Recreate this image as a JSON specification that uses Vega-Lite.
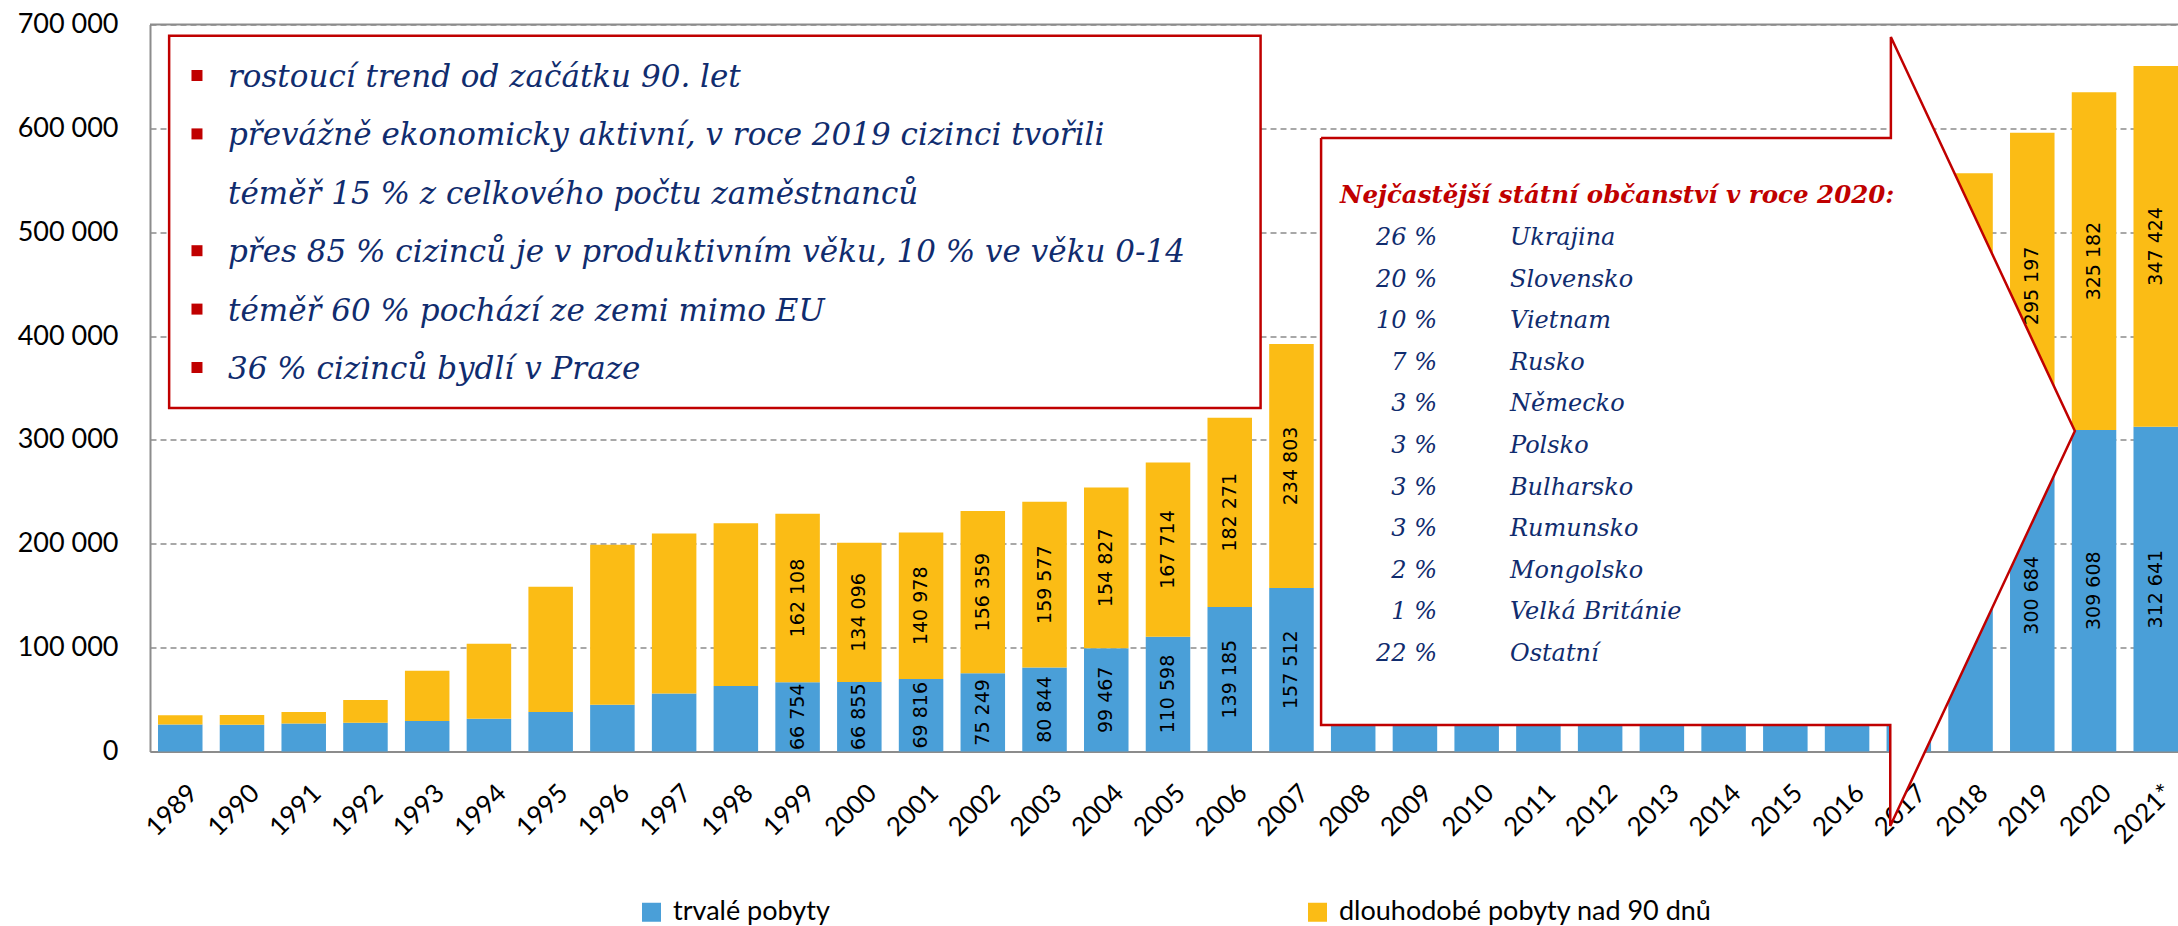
{
  "$schema": "https://vega.github.io/schema/vega-lite/v6.json",
  "width": 2028,
  "height": 727,
  "autosize": {"type": "none"},
  "padding": {"left": 150, "top": 24.5, "right": 0, "bottom": 174.5},
  "config": {
    "locale": {"number": {"decimal": ",", "thousands": " ", "grouping": [3], "currency": ["", " Kč"]}},
    "view": {"stroke": null},
    "font": "Lato",
    "axis": {"title": null, "ticks": false, "domainColor": "#8C8C8C", "domainWidth": 2, "labelFont": "Lato", "labelColor": "black", "gridColor": "#8C8C8C", "gridDash": [6, 4], "gridWidth": 1.5},
    "axisY": {"labelFontSize": 27, "labelPadding": 32},
    "axisX": {"labelFontSize": 26, "labelAngle": -45, "labelAlign": "right", "labelBaseline": "top", "labelPadding": 28, "labelOffset": 4, "grid": false}
  },
  "datasets": {
    "bars": [
      {"year": "1989", "type": "trvalé pobyty", "value": 26000}, {"year": "1989", "type": "dlouhodobé pobyty nad 90 dnů", "value": 8880},
      {"year": "1990", "type": "trvalé pobyty", "value": 25700}, {"year": "1990", "type": "dlouhodobé pobyty nad 90 dnů", "value": 9498},
      {"year": "1991", "type": "trvalé pobyty", "value": 27000}, {"year": "1991", "type": "dlouhodobé pobyty nad 90 dnů", "value": 11142},
      {"year": "1992", "type": "trvalé pobyty", "value": 27600}, {"year": "1992", "type": "dlouhodobé pobyty nad 90 dnů", "value": 21952},
      {"year": "1993", "type": "trvalé pobyty", "value": 29300}, {"year": "1993", "type": "dlouhodobé pobyty nad 90 dnů", "value": 48368},
      {"year": "1994", "type": "trvalé pobyty", "value": 31500}, {"year": "1994", "type": "dlouhodobé pobyty nad 90 dnů", "value": 72179},
      {"year": "1995", "type": "trvalé pobyty", "value": 38000}, {"year": "1995", "type": "dlouhodobé pobyty nad 90 dnů", "value": 120633},
      {"year": "1996", "type": "trvalé pobyty", "value": 45000}, {"year": "1996", "type": "dlouhodobé pobyty nad 90 dnů", "value": 154152},
      {"year": "1997", "type": "trvalé pobyty", "value": 55800}, {"year": "1997", "type": "dlouhodobé pobyty nad 90 dnů", "value": 154157},
      {"year": "1998", "type": "trvalé pobyty", "value": 63000}, {"year": "1998", "type": "dlouhodobé pobyty nad 90 dnů", "value": 156831},
      {"year": "1999", "type": "trvalé pobyty", "value": 66754}, {"year": "1999", "type": "dlouhodobé pobyty nad 90 dnů", "value": 162108},
      {"year": "2000", "type": "trvalé pobyty", "value": 66855}, {"year": "2000", "type": "dlouhodobé pobyty nad 90 dnů", "value": 134096},
      {"year": "2001", "type": "trvalé pobyty", "value": 69816}, {"year": "2001", "type": "dlouhodobé pobyty nad 90 dnů", "value": 140978},
      {"year": "2002", "type": "trvalé pobyty", "value": 75249}, {"year": "2002", "type": "dlouhodobé pobyty nad 90 dnů", "value": 156359},
      {"year": "2003", "type": "trvalé pobyty", "value": 80844}, {"year": "2003", "type": "dlouhodobé pobyty nad 90 dnů", "value": 159577},
      {"year": "2004", "type": "trvalé pobyty", "value": 99467}, {"year": "2004", "type": "dlouhodobé pobyty nad 90 dnů", "value": 154827},
      {"year": "2005", "type": "trvalé pobyty", "value": 110598}, {"year": "2005", "type": "dlouhodobé pobyty nad 90 dnů", "value": 167714},
      {"year": "2006", "type": "trvalé pobyty", "value": 139185}, {"year": "2006", "type": "dlouhodobé pobyty nad 90 dnů", "value": 182271},
      {"year": "2007", "type": "trvalé pobyty", "value": 157512}, {"year": "2007", "type": "dlouhodobé pobyty nad 90 dnů", "value": 234803},
      {"year": "2008", "type": "trvalé pobyty", "value": 172927}, {"year": "2008", "type": "dlouhodobé pobyty nad 90 dnů", "value": 265374},
      {"year": "2009", "type": "trvalé pobyty", "value": 180230}, {"year": "2009", "type": "dlouhodobé pobyty nad 90 dnů", "value": 252273},
      {"year": "2010", "type": "trvalé pobyty", "value": 188951}, {"year": "2010", "type": "dlouhodobé pobyty nad 90 dnů", "value": 235340},
      {"year": "2011", "type": "trvalé pobyty", "value": 196446}, {"year": "2011", "type": "dlouhodobé pobyty nad 90 dnů", "value": 237707},
      {"year": "2012", "type": "trvalé pobyty", "value": 211894}, {"year": "2012", "type": "dlouhodobé pobyty nad 90 dnů", "value": 224052},
      {"year": "2013", "type": "trvalé pobyty", "value": 236730}, {"year": "2013", "type": "dlouhodobé pobyty nad 90 dnů", "value": 204806},
      {"year": "2014", "type": "trvalé pobyty", "value": 252516}, {"year": "2014", "type": "dlouhodobé pobyty nad 90 dnů", "value": 196851},
      {"year": "2015", "type": "trvalé pobyty", "value": 260040}, {"year": "2015", "type": "dlouhodobé pobyty nad 90 dnů", "value": 204630},
      {"year": "2016", "type": "trvalé pobyty", "value": 267918}, {"year": "2016", "type": "dlouhodobé pobyty nad 90 dnů", "value": 225523},
      {"year": "2017", "type": "trvalé pobyty", "value": 273974}, {"year": "2017", "type": "dlouhodobé pobyty nad 90 dnů", "value": 250168},
      {"year": "2018", "type": "trvalé pobyty", "value": 282668}, {"year": "2018", "type": "dlouhodobé pobyty nad 90 dnů", "value": 274000},
      {"year": "2019", "type": "trvalé pobyty", "value": 300684}, {"year": "2019", "type": "dlouhodobé pobyty nad 90 dnů", "value": 295197},
      {"year": "2020", "type": "trvalé pobyty", "value": 309608}, {"year": "2020", "type": "dlouhodobé pobyty nad 90 dnů", "value": 325182},
      {"year": "2021*", "type": "trvalé pobyty", "value": 312641}, {"year": "2021*", "type": "dlouhodobé pobyty nad 90 dnů", "value": 347424}
    ],
    "bullets": [
      {"line": 1, "bullet": true, "text": "rostoucí trend od začátku 90. let"},
      {"line": 2, "bullet": true, "text": "převážně ekonomicky aktivní, v roce 2019 cizinci tvořili"},
      {"line": 3, "bullet": false, "text": "téměř 15 % z celkového počtu zaměstnanců"},
      {"line": 4, "bullet": true, "text": "přes 85 % cizinců je v produktivním věku, 10 % ve věku 0-14"},
      {"line": 5, "bullet": true, "text": "téměř 60 % pochází ze zemi mimo EU"},
      {"line": 6, "bullet": true, "text": "\u00a036 % cizinců bydlí v Praze"}
    ],
    "table": [
      {"rank": 1, "pct": "26 %", "country": "Ukrajina"},
      {"rank": 2, "pct": "20 %", "country": "Slovensko"},
      {"rank": 3, "pct": "10 %", "country": "Vietnam"},
      {"rank": 4, "pct": "7 %", "country": "Rusko"},
      {"rank": 5, "pct": "3 %", "country": "Německo"},
      {"rank": 6, "pct": "3 %", "country": "Polsko"},
      {"rank": 7, "pct": "3 %", "country": "Bulharsko"},
      {"rank": 8, "pct": "3 %", "country": "Rumunsko"},
      {"rank": 9, "pct": "2 %", "country": "Mongolsko"},
      {"rank": 10, "pct": "1 %", "country": "Velká Británie"},
      {"rank": 11, "pct": "22 %", "country": "Ostatní"}
    ],
    "callout": [
      {"ord": 1, "xv": 2007.48, "yv": 590715},
      {"ord": 2, "xv": 2016.71, "yv": 590715},
      {"ord": 3, "xv": 2016.71, "yv": 687963},
      {"ord": 4, "xv": 2019.69, "yv": 308597},
      {"ord": 5, "xv": 2016.70, "yv": -71733},
      {"ord": 6, "xv": 2016.70, "yv": 25516},
      {"ord": 7, "xv": 2007.48, "yv": 25516},
      {"ord": 8, "xv": 2007.48, "yv": 590715}
    ]
  },
  "layer": [
    {
      "data": {"name": "bars"},
      "transform": [
        {"stack": "value", "groupby": ["year"], "sort": [{"field": "type", "order": "descending"}], "as": ["v0", "v1"]}
      ],
      "encoding": {
        "x": {"field": "year", "type": "nominal", "sort": "ascending", "title": null,
              "scale": {"paddingInner": 0.279, "paddingOuter": 0.0648, "align": 1}}
      },
      "layer": [
        {
          "mark": {"type": "bar"},
          "encoding": {
            "y": {"field": "v1", "type": "quantitative", "title": null,
                  "scale": {"domain": [0, 700000], "nice": false, "zero": true},
                  "axis": {"values": [0, 100000, 200000, 300000, 400000, 500000, 600000, 700000], "format": ",d", "grid": true}},
            "y2": {"field": "v0"},
            "color": {"field": "type", "type": "nominal",
                      "scale": {"domain": ["trvalé pobyty", "dlouhodobé pobyty nad 90 dnů"], "range": ["#4A9FD8", "#FBBC15"]},
                      "legend": {"orient": "none", "legendX": 488, "legendY": 874, "direction": "horizontal", "title": null,
                                 "symbolType": "square", "symbolSize": 361, "symbolStrokeWidth": 0, "labelFont": "Lato",
                                 "labelFontSize": 27, "labelColor": "black", "labelOffset": 8, "columnPadding": 474, "padding": 0, "labelLimit": 600}}
          }
        },
        {
          "transform": [
            {"filter": "datum.year >= '1999'"},
            {"fold": ["v0", "v1"], "as": ["edge", "edgeValue"]},
            {"aggregate": [{"op": "mean", "field": "edgeValue", "as": "mid"}], "groupby": ["year", "type", "value"]}
          ],
          "mark": {"type": "text", "angle": 270, "align": "center", "baseline": "middle", "font": "DejaVu Sans", "fontSize": 19, "color": "black"},
          "encoding": {
            "y": {"field": "mid", "type": "quantitative", "title": null, "scale": {"domain": [0, 700000], "nice": false, "zero": true}},
            "text": {"field": "value", "type": "quantitative", "format": ",d"}
          }
        }
      ]
    },
    {
      "data": {"values": [{}]},
      "mark": {"type": "rule", "color": "#8C8C8C", "strokeWidth": 2},
      "encoding": {"y": {"datum": 700000, "type": "quantitative", "scale": {"domain": [0, 700000], "nice": false, "zero": true}, "axis": null}}
    },
    {
      "data": {"values": [{}]},
      "mark": {"type": "rect", "fill": "white", "stroke": "#C00000", "strokeWidth": 2.5},
      "encoding": {
        "x": {"datum": 1988.82, "type": "quantitative", "scale": {"domain": [1988.51, 2021.361], "nice": false, "zero": false}, "axis": null},
        "x2": {"datum": 2006.5},
        "y": {"datum": 689200, "type": "quantitative", "scale": {"domain": [0, 700000], "nice": false, "zero": false}, "axis": null},
        "y2": {"datum": 330700}
      }
    },
    {
      "data": {"name": "bullets"},
      "encoding": {
        "y": {"field": "line", "type": "quantitative", "scale": {"domain": [0.0839, 12.5325], "reverse": true, "nice": false, "zero": false}, "axis": null}
      },
      "layer": [
        {
          "transform": [{"filter": "datum.bullet"}],
          "mark": {"type": "square", "size": 121, "opacity": 1, "color": "#C00000", "yOffset": -2.5},
          "encoding": {"x": {"datum": 1989.271, "type": "quantitative", "scale": {"domain": [1988.51, 2021.361], "nice": false, "zero": false}, "axis": null}}
        },
        {
          "mark": {"type": "text", "align": "left", "baseline": "middle", "font": "DejaVu Serif", "fontStyle": "italic", "fontSize": 31, "color": "#102C6E"},
          "encoding": {
            "x": {"datum": 1989.773, "type": "quantitative", "scale": {"domain": [1988.51, 2021.361], "nice": false, "zero": false}, "axis": null},
            "text": {"field": "text"}
          }
        }
      ]
    },
    {
      "data": {"name": "callout"},
      "mark": {"type": "line", "fill": "white", "stroke": "#C00000", "strokeWidth": 2.5, "strokeJoin": "miter"},
      "encoding": {
        "x": {"field": "xv", "type": "quantitative", "scale": {"domain": [1988.51, 2021.361], "nice": false, "zero": false}, "axis": null},
        "y": {"field": "yv", "type": "quantitative", "scale": {"domain": [0, 700000], "nice": false, "zero": false}, "axis": null},
        "order": {"field": "ord", "type": "quantitative"}
      }
    },
    {
      "data": {"name": "table"},
      "encoding": {
        "y": {"field": "rank", "type": "quantitative", "scale": {"domain": [-4.132, 13.344], "reverse": true, "nice": false, "zero": false}, "axis": null}
      },
      "layer": [
        {
          "mark": {"type": "text", "align": "right", "baseline": "middle", "font": "DejaVu Serif", "fontStyle": "italic", "fontSize": 24, "color": "#102C6E"},
          "encoding": {
            "x": {"datum": 2009.358, "type": "quantitative", "scale": {"domain": [1988.51, 2021.361], "nice": false, "zero": false}, "axis": null},
            "text": {"field": "pct"}
          }
        },
        {
          "mark": {"type": "text", "align": "left", "baseline": "middle", "font": "DejaVu Serif", "fontStyle": "italic", "fontSize": 24, "color": "#102C6E"},
          "encoding": {
            "x": {"datum": 2010.54, "type": "quantitative", "scale": {"domain": [1988.51, 2021.361], "nice": false, "zero": false}, "axis": null},
            "text": {"field": "country"}
          }
        },
        {
          "data": {"values": [{"rank": 0, "title": "Nejčastější státní občanství v roce 2020:"}]},
          "mark": {"type": "text", "align": "left", "baseline": "middle", "font": "DejaVu Serif", "fontStyle": "italic", "fontWeight": "bold", "fontSize": 24.5, "color": "#C00000"},
          "encoding": {
            "x": {"datum": 2007.787, "type": "quantitative", "scale": {"domain": [1988.51, 2021.361], "nice": false, "zero": false}, "axis": null},
            "text": {"field": "title"}
          }
        }
      ]
    }
  ],
  "resolve": {"scale": {"x": "independent", "y": "independent"}}
}
